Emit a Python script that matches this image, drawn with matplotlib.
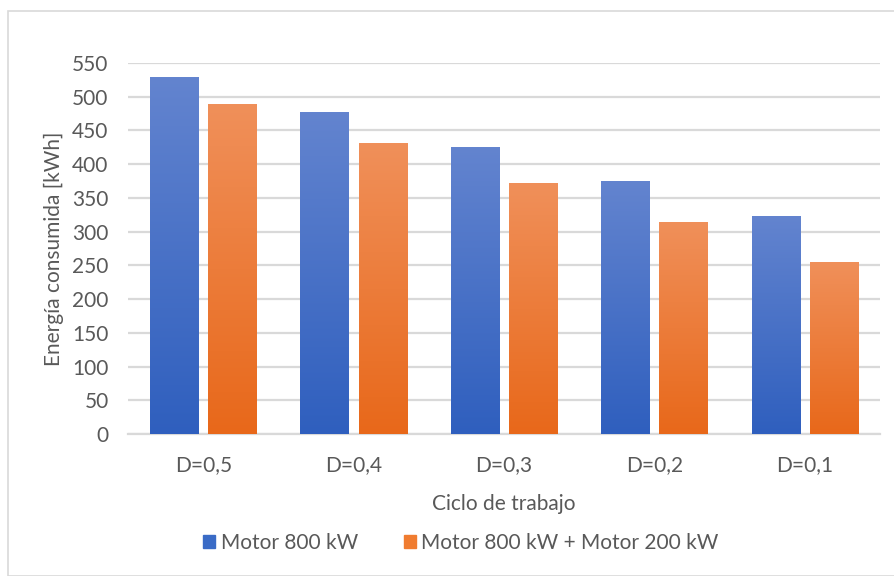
import matplotlib.pyplot as plt
import numpy as np
from matplotlib.patches import Rectangle
from matplotlib.colors import LinearSegmentedColormap

plt.rcParams['font.family'] = ['Lato', 'DejaVu Sans']

ciclos = ['D=0,5', 'D=0,4', 'D=0,3', 'D=0,2', 'D=0,1']
motor_800 = [528, 476, 424, 374, 323]
motor_800_200 = [489, 430, 372, 313, 254]
series_names = ['Motor 800 kW', 'Motor 800 kW + Motor 200 kW']

fig = plt.figure(figsize=(8.95, 5.76), dpi=100)
ax = fig.add_axes([128 / 895, 1 - 434 / 576, (880 - 128) / 895, (434 - 63) / 576])

# outer chart frame
fig.patches.append(Rectangle((8 / 895, 0), 1, 1 - 11 / 576, transform=fig.transFigure,
                             fill=False, edgecolor='#D9D9D9', linewidth=1.2))

x = np.arange(len(ciclos))
w = 0.32
gap = 0.067
b1 = ax.bar(x - (w + gap) / 2, motor_800, w, color='#4472C4', label=series_names[0], zorder=2)
b2 = ax.bar(x + (w + gap) / 2, motor_800_200, w, color='#ED7D31', label=series_names[1], zorder=2)

# vertical gradient fill on every bar
cm_blue = LinearSegmentedColormap.from_list('b', ['#2F5FBE', '#6384CF'])
cm_orange = LinearSegmentedColormap.from_list('o', ['#E8681A', '#F0905A'])
grad = np.linspace(0, 1, 256).reshape(-1, 1)
for bars, cm in [(b1, cm_blue), (b2, cm_orange)]:
    for p in bars.patches:
        x0, y0 = p.get_x(), p.get_y()
        ax.imshow(grad, extent=[x0, x0 + p.get_width(), y0, y0 + p.get_height()],
                  origin='lower', cmap=cm, aspect='auto', zorder=3)

ax.set_xlim(-0.5, len(ciclos) - 0.5)
ax.set_ylim(0, 550)
ax.set_yticks(np.arange(0, 551, 50))
ax.set_xticks(x)
ax.set_xticklabels(ciclos)
ax.grid(axis='y', color='#D9D9D9', linewidth=1.6, zorder=0)
for s in ['top', 'right', 'left']:
    ax.spines[s].set_visible(False)
ax.spines['bottom'].set_color('#D9D9D9')
ax.spines['bottom'].set_linewidth(1.6)
ax.tick_params(axis='both', length=0, labelsize=15, colors='#595959')
ax.tick_params(axis='x', pad=15)
ax.tick_params(axis='y', pad=14)

ax.set_xlabel('Ciclo de trabajo', fontsize=15, color='#595959', labelpad=14)
ax.set_ylabel('Energía consumida [kWh]', fontsize=15, color='#595959', labelpad=6)

handles = [Rectangle((0, 0), 1, 1, color='#3A6BC6'), Rectangle((0, 0), 1, 1, color='#F07C30')]
fig.legend(handles, series_names, loc='center', bbox_to_anchor=(0.515, 1 - 543 / 576),
           ncol=2, frameon=False, fontsize=15, labelcolor='#595959',
           handlelength=0.6, handleheight=0.6, handletextpad=0.25, columnspacing=2.2)

fig.savefig('out.png', dpi=100)
